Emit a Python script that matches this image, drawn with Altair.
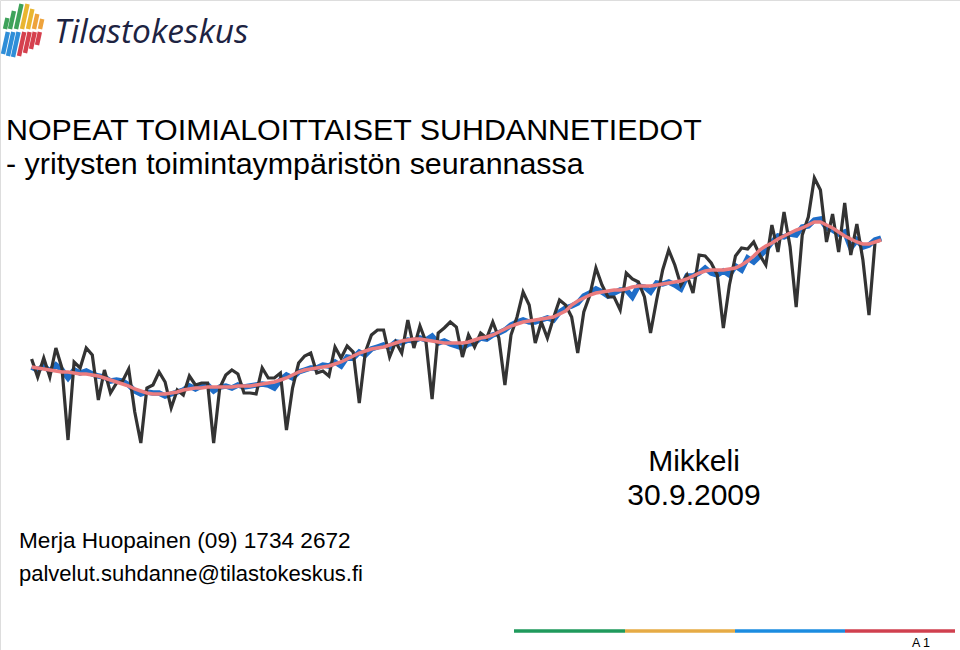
import altair as alt
import pandas as pd

# Monthly series (screen-height units: larger = lower)
original = [359, 377, 358, 377, 348, 368, 440, 362, 368, 348, 355, 400,
            370, 393, 383, 381, 369, 412, 443, 388, 385, 372, 382, 408,
            390, 395, 376, 385, 383, 383, 443, 388, 375, 370, 374, 393,
            393, 394, 368, 378, 378, 373, 430, 388, 363, 356, 353, 373,
            371, 376, 347, 358, 346, 352, 403, 352, 335, 330, 330, 357,
            342, 353, 320, 348, 326, 342, 399, 333, 328, 322, 327, 357,
            335, 347, 333, 338, 322, 338, 385, 335, 317, 292, 305, 343,
            322, 338, 318, 300, 305, 317, 353, 312, 295, 268, 285, 297,
            297, 310, 273, 279, 282, 297, 333, 300, 270, 250, 265, 285,
            275, 293, 255, 256, 263, 275, 328, 285, 256, 248, 249, 242,
            255, 265, 225, 252, 212, 247, 307, 235, 217, 178, 190, 242,
            214, 252, 203, 255, 224, 260, 315, 242, 240]

seasonal = [367, 370, 366, 371, 365, 370, 378, 370, 373, 371, 374, 376,
            377, 381, 380, 381, 385, 391, 394, 392, 393, 393, 396, 394,
            392, 390, 386, 389, 386, 385, 391, 387, 386, 388, 385, 387,
            386, 385, 384, 385, 388, 380, 375, 378, 372, 370, 368, 368,
            365, 366, 362, 366, 357, 358, 352, 355, 349, 347, 345, 347,
            342, 343, 340, 341, 338, 340, 336, 343, 341, 344, 346, 348,
            344, 343, 338, 339, 335, 333, 330, 325, 322, 320, 322, 322,
            320, 318, 320, 312, 308, 306, 303, 296, 293, 289, 292, 296,
            293, 290, 290, 297, 286, 287, 292, 283, 284, 282, 285, 289,
            276, 276, 273, 268, 273, 275, 271, 275, 266, 270, 258, 262,
            256, 250, 242, 236, 237, 234, 235, 227, 226, 220, 219, 228,
            230, 234, 232, 248, 240, 247, 245, 240, 238]

trend = [367, 368, 369, 370, 371, 372, 372, 373, 374, 374, 375, 376,
         378, 380, 382, 384, 386, 389, 391, 393, 394, 394, 394, 393,
         392, 390, 389, 388, 388, 387, 387, 387, 387, 387, 386, 386,
         386, 385, 384, 383, 382, 380, 378, 375, 372, 370, 369, 368,
         367, 366, 364, 362, 359, 356, 353, 351, 349, 348, 347, 345,
         343, 341, 340, 339, 339, 340, 341, 342, 343, 343, 343, 343,
         342, 340, 338, 337, 335, 332, 329, 326, 324, 322, 321, 320,
         319, 318, 317, 314, 311, 305, 301, 298, 295, 293, 292, 291,
         290, 290, 289, 287, 286, 286, 286, 285, 284, 283, 282, 281,
         279, 276, 273, 271, 270, 270, 270, 269, 268, 265, 261, 256,
         250, 246, 243, 239, 236, 233, 230, 228, 225, 222, 222, 225,
         228, 232, 236, 239, 242, 244, 244, 242, 240]

months = list(range(len(original)))

rows = []
for name, vals in [("Alkuperäinen", original), ("Kausitasoitettu", seasonal), ("Trendi", trend)]:
    for m, v in zip(months, vals):
        rows.append({"kuukausi": m, "arvo": v, "sarja": name})
df = pd.DataFrame(rows)

W, H = 960, 650
xs = alt.Scale(domain=[-5.21, 153.0], nice=False, zero=False)
ys = alt.Scale(domain=[0, 650], reverse=True, nice=False, zero=False)

def line(name, color, width):
    return alt.Chart(df).transform_filter(alt.datum.sarja == name).mark_line(
        color=color, strokeWidth=width, strokeJoin="miter", clip=False
    ).encode(
        x=alt.X("kuukausi:Q", scale=xs, axis=None),
        y=alt.Y("arvo:Q", scale=ys, axis=None),
    )

one = pd.DataFrame({"a": [0]})

def txt(s, x, y, size, color="#000000", font="Liberation Sans", style="normal", align="left", weight="normal"):
    return alt.Chart(one).mark_text(
        text=s, fontSize=size, font=font, color=color, fontStyle=style,
        align=align, baseline="alphabetic", fontWeight=weight
    ).encode(x=alt.value(x), y=alt.value(y))

# logo bars (decorative)
logo_bars = [
    # x bottom, y bottom, y top, color
    (5, 29, 18, "#3ea25a"), (10, 29, 11, "#3ea25a"), (16, 29, 4, "#3ea25a"),
    (22, 29, 4, "#e9b630"), (28, 29, 9, "#e9b630"), (34, 29, 14, "#eea33c"), (40, 29, 19, "#eea33c"),
    (3, 54, 32, "#2f8ed8"), (8, 56, 32, "#2f8ed8"), (13, 57, 32, "#2f8ed8"),
    (19, 56, 32, "#d5404e"), (25, 53, 32, "#d5404e"), (31, 49, 32, "#d5404e"), (37, 45, 32, "#d5404e"),
]
logo_layers = []
for xb, yb, yt, c in logo_bars:
    logo_layers.append(
        alt.Chart(one).mark_rule(color=c, strokeWidth=4.4).encode(
            x=alt.value(xb), y=alt.value(yb),
            x2=alt.value(xb + 0.22 * (yb - yt)), y2=alt.value(yt)
        )
    )

stripe = [(514, 625, "#1f9a5c"), (625, 735, "#e6ab45"), (735, 845, "#1c8ce0"), (845, 955, "#d0404f")]
stripe_layers = [
    alt.Chart(one).mark_rule(color=c, strokeWidth=3.5).encode(
        x=alt.value(a), x2=alt.value(b), y=alt.value(631)
    ) for a, b, c in stripe
]

layers = (
    logo_layers + stripe_layers + [
        txt("Tilastokeskus", 54, 43, 33.5, color="#1d2342", font="Open Sans", style="italic"),
        txt("NOPEAT TOIMIALOITTAISET SUHDANNETIEDOT", 6, 140, 30.4),
        txt("- yritysten toimintaympäristön seurannassa", 6, 174, 30.4),
        txt("Mikkeli", 694, 471, 30, align="center"),
        txt("30.9.2009", 694, 505, 30, align="center"),
        txt("Merja Huopainen (09) 1734 2672", 19, 548, 22.6),
        txt("palvelut.suhdanne@tilastokeskus.fi", 19, 581, 22),
        txt("A 1", 912, 647, 12.5),
        line("Kausitasoitettu", "#1f6dc8", 5.5),
        line("Alkuperäinen", "#333333", 3.2),
        line("Trendi", "#eb7c7e", 3.5),
    ]
)

chart = alt.layer(*layers).properties(
    width=W, height=H, padding=0, autosize=alt.AutoSizeParams(type="none")
).configure_view(stroke=None).configure(background="white")

chart.save("out.html", embed_options={"renderer": "svg", "actions": False})
